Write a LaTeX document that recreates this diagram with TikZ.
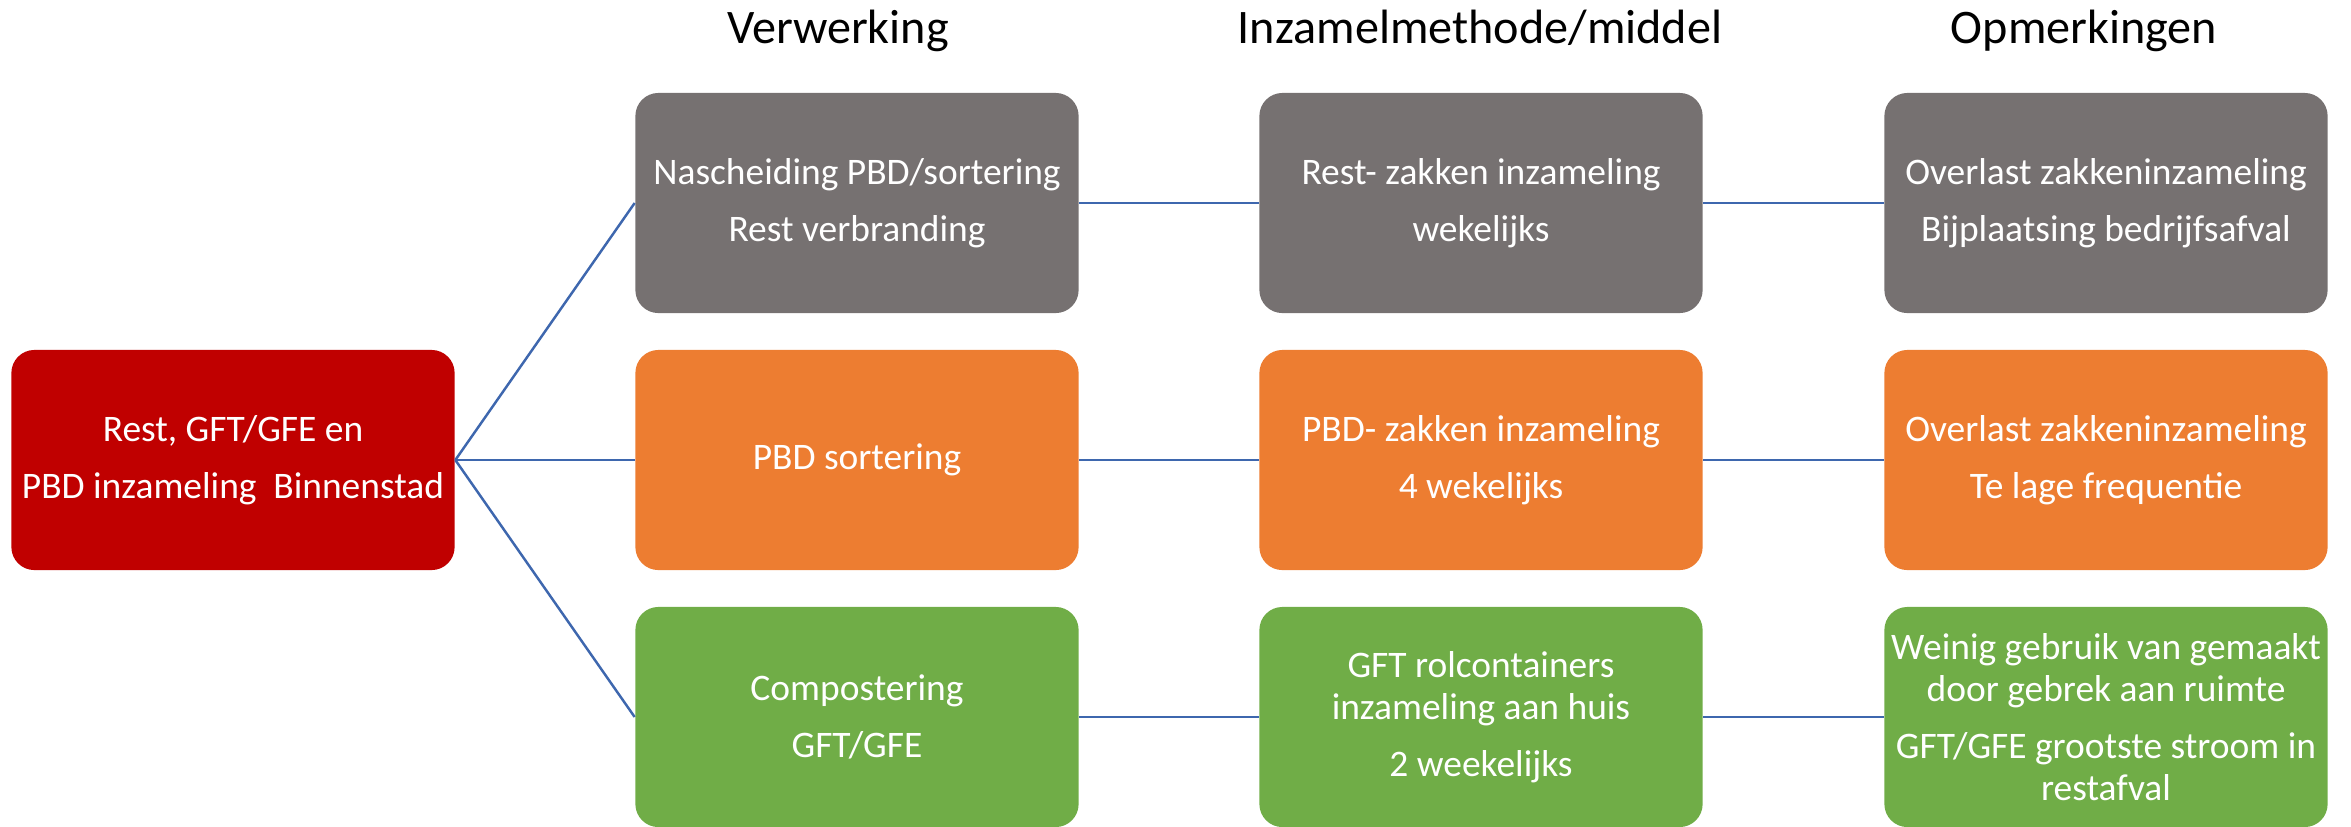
\documentclass[tikz,border=0pt]{standalone}
\usepackage{fontspec}
\setmainfont{Carlito}
\usepackage{tikz}

\definecolor{rood}{HTML}{C00000}
\definecolor{grijs}{HTML}{767171}
\definecolor{oranje}{HTML}{ED7D31}
\definecolor{groen}{HTML}{70AD47}
\definecolor{lijnblauw}{HTML}{3E67AE}

\begin{document}
\begin{tikzpicture}[x=0.01cm,y=-0.01cm,
 blok/.style={rounded corners=0.23cm,minimum width=4.43cm,minimum height=2.2cm,
  inner sep=0pt,align=center,text=white,font=\fontsize{10.65}{12}\selectfont},
 kop/.style={anchor=base,font=\fontsize{13.7}{15}\selectfont},
 verbind/.style={lijnblauw,line width=0.7pt}]
\useasboundingbox (0,0) rectangle (2351,826);

% kolomkoppen
\node[kop] (kop1) at (838,43) {Verwerking};
\node[kop] (kop2) at (1480,43) {Inzamelmethode/middel};
\node[kop] (kop3) at (2084,43) {Opmerkingen};

% bron
\node[blok,fill=rood] (bron) at (233,460) {Rest, GFT/GFE en\\[4.2pt]PBD inzameling~~Binnenstad};

% verwerking
\node[blok,fill=grijs] (verw1) at (857,203) {Nascheiding PBD/sortering\\[4.2pt]Rest verbranding};
\node[blok,fill=oranje] (verw2) at (857,460) {PBD sortering};
\node[blok,fill=groen] (verw3) at (857,717) {Compostering\\[4.2pt]GFT/GFE};

% inzamelmethode
\node[blok,fill=grijs] (inz1) at (1481,203) {Rest- zakken inzameling\\[4.2pt]wekelijks};
\node[blok,fill=oranje] (inz2) at (1481,460) {PBD- zakken inzameling\\[4.2pt]4 wekelijks};
\node[blok,fill=groen] (inz3) at (1481,717) {GFT rolcontainers\\inzameling aan huis\\[4.2pt]2 weekelijks};

% opmerkingen
\node[blok,fill=grijs] (opm1) at (2106,203) {Overlast zakkeninzameling\\[4.2pt]Bijplaatsing bedrijfsafval};
\node[blok,fill=oranje] (opm2) at (2106,460) {Overlast zakkeninzameling\\[4.2pt]Te lage frequentie};
\node[blok,fill=groen] (opm3) at (2106,717) {Weinig gebruik van gemaakt\\door gebrek aan ruimte\\[4.2pt]GFT/GFE grootste stroom in\\restafval};

\foreach \r in {1,2,3} {
 \draw[verbind] (bron.east) -- (verw\r.west);
 \draw[verbind] (verw\r.east) -- (inz\r.west);
 \draw[verbind] (inz\r.east) -- (opm\r.west);
}
\end{tikzpicture}
\end{document}
